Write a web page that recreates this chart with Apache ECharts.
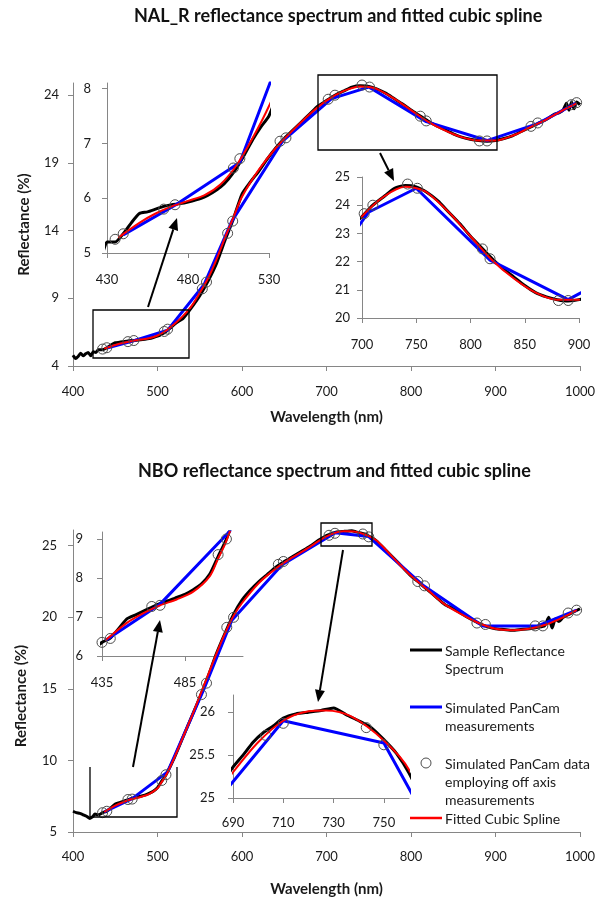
<!DOCTYPE html>
<html>
<head>
<meta charset="utf-8">
<script src="https://cdn.jsdelivr.net/npm/echarts@6/dist/echarts.min.js"></script>
<style>
html, body { margin: 0; padding: 0; background: #fff; }
#chart { width: 605px; height: 903px; }
</style>
</head>
<body>
<div id="chart"></div>
<script>
// ---- NAL_R ----
var nalSampleWl = [400,403,406,409,412,415,418,421,424,427,430,435,440,445,450,455,460,465,470,475,480,485,490,495,500,505,510,515,520,525,530,540,550,560,570,580,590,600,610,620,630,640,650,660,670,680,690,700,710,720,730,740,750,760,770,780,790,800,810,820,830,840,850,860,870,880,890,900,910,920,930,940,950,960,970,975,980,984,987,990,993,996,1000];
var nalSampleVal = [4.8,4.55,4.7,4.95,4.75,4.9,5.0,4.75,5.05,5.0,5.2,5.2,5.35,5.55,5.72,5.75,5.8,5.85,5.88,5.9,5.93,5.97,6.02,6.1,6.2,6.35,6.55,6.8,7.07,7.3,7.5,8.3,9.2,10.3,11.6,13.3,14.9,16.7,17.6,18.4,19.3,20.1,20.8,21.4,22.0,22.6,23.2,23.6,24.0,24.3,24.6,24.7,24.65,24.45,24.15,23.75,23.35,22.9,22.5,22.1,21.75,21.45,21.15,20.9,20.75,20.65,20.6,20.65,20.8,21.0,21.3,21.6,21.9,22.2,22.6,22.7,22.9,23.4,22.9,23.5,23.0,23.5,23.3];
var nalPanWl = [440,472,512,555,588,648,706,750,818,890,950,995];
var nalPanVal = [5.33,5.87,6.65,10.0,14.7,20.6,23.75,24.6,22.05,20.65,21.9,23.4];
var nalOffWl = [435,440,465,472,508,512,553,558,583,589,645,652,702,710,742,751,811,818,881,890,942,950,990,996];
var nalOffVal = [5.25,5.35,5.8,5.88,6.55,6.72,9.7,10.2,13.8,14.7,20.6,20.85,23.7,24.0,24.75,24.6,22.45,22.1,20.62,20.62,21.7,21.95,23.3,23.45];
var nalSplineWl = [437,450,460,470,480,490,500,510,520,530,540,550,560,570,580,590,600,620,640,660,680,700,720,740,750,760,780,800,820,840,860,880,900,920,940,960,980,996];
var nalSplineVal = [5.28,5.55,5.72,5.85,5.95,6.05,6.25,6.6,7.1,7.68,8.4,9.4,10.5,11.9,13.5,15.0,16.5,18.5,20.1,21.4,22.6,23.6,24.3,24.65,24.6,24.45,23.75,22.9,22.05,21.4,20.9,20.65,20.65,21.0,21.6,22.2,22.9,23.4];

// ---- NBO ----
var nboSampleWl = [400,404,408,412,416,420,423,426,430,435,440,445,450,455,460,465,470,475,480,485,490,495,500,505,510,520,530,540,550,560,570,580,590,600,610,620,630,640,650,660,670,680,690,694,698,702,706,710,715,720,725,730,735,740,745,750,755,760,770,780,790,800,810,820,830,840,850,860,870,880,890,900,910,920,930,940,950,958,963,967,971,975,980,990,1000];
var nboSampleVal = [6.45,6.35,6.3,6.2,6.1,5.95,6.05,6.25,6.2,6.35,6.46,6.7,6.95,7.05,7.15,7.25,7.35,7.42,7.5,7.58,7.7,7.85,8.1,8.55,9.0,10.2,11.6,13.0,14.4,15.9,17.5,18.9,20.2,21.2,21.9,22.5,23.0,23.5,23.9,24.25,24.6,24.95,25.36,25.5,25.65,25.76,25.84,25.93,25.98,26.0,26.02,26.05,25.97,25.9,25.82,25.68,25.52,25.29,24.7,24.1,23.5,22.9,22.4,21.9,21.4,20.9,20.6,20.25,19.9,19.6,19.35,19.2,19.15,19.1,19.15,19.2,19.3,19.4,20.0,19.25,19.9,19.7,20.0,20.3,20.6];
var nboPanWl = [437,470,512,555,588,648,710,750,815,885,950,996];
var nboPanVal = [6.4,7.33,9.2,15.0,19.8,23.7,25.9,25.64,22.2,19.4,19.4,20.5];
var nboOffWl = [435,440,465,470,505,510,552,558,582,590,643,649,703,710,743,750,808,816,878,888,947,956,986,996];
var nboOffVal = [6.35,6.45,7.27,7.3,8.6,9.0,14.6,15.4,19.3,20.0,23.7,23.9,25.73,25.87,25.82,25.62,22.5,22.2,19.6,19.5,19.4,19.4,20.3,20.5];
var nboSplineWl = [437,450,460,470,480,490,500,505,510,520,530,540,550,560,570,580,590,600,620,640,660,680,690,700,710,720,727,737,750,760,780,800,820,840,860,880,900,920,940,960,980,996];
var nboSplineVal = [6.4,6.85,7.1,7.3,7.45,7.65,8.05,8.5,8.95,10.2,11.6,13.0,14.5,16.0,17.5,18.9,20.1,21.0,22.4,23.4,24.2,24.9,25.3,25.65,25.9,26.01,26.02,25.95,25.67,25.33,24.1,22.9,21.9,20.9,20.2,19.6,19.2,19.1,19.2,19.5,20.0,20.5];

// tick label values
var mainXTicks = [400,500,600,700,800,900,1000];
var nalMainYTicks = [4,9,14,19,24];
var nalLeftXTicks = [430,480,530];
var nalLeftYTicks = [5,6,7,8];
var nalRightXTicks = [700,750,800,850,900];
var nalRightYTicks = [20,21,22,23,24,25];
var nboMainYTicks = [5,10,15,20,25];
var nboLeftXTicks = [435,485];
var nboLeftYTicks = [6,7,8,9];
var nboRightXTicks = [690,710,730,750];
var nboRightYTicks = [25,25.5,26];

var FONT = 'Lato, "Open Sans", sans-serif';
var AXIS_GREY = '#868686';

function pairs(xs, ys) {
    return xs.map(function (x, i) { return [x, ys[i]]; });
}

function makeAxis(gridIndex, min, max, ticks, margin) {
    return {
        type: 'value',
        gridIndex: gridIndex,
        min: min,
        max: max,
        axisLine: { show: true, onZero: false, lineStyle: { color: AXIS_GREY, width: 1 } },
        axisTick: { show: true, length: 5, lineStyle: { color: AXIS_GREY }, customValues: ticks },
        axisLabel: {
            color: '#1a1a1a', fontSize: 13, fontFamily: FONT, margin: margin, customValues: ticks,
            formatter: function (v) { return String(v); }
        },
        splitLine: { show: false }
    };
}

function withName(axis, name, gap, rotate, padding) {
    axis.name = name;
    axis.nameLocation = 'middle';
    axis.nameGap = gap;
    if (rotate) axis.nameRotate = 90;
    axis.nameTextStyle = { color: '#1a1a1a', fontSize: 15, fontWeight: 'bold', fontFamily: FONT, padding: padding || 0 };
    return axis;
}

function buildSeries(g, sWl, sVal, pWl, pVal, oWl, oVal, fWl, fVal) {
    return [
        {
            type: 'line', name: 'Sample Reflectance Spectrum', xAxisIndex: g, yAxisIndex: g,
            data: pairs(sWl, sVal), symbol: 'none', smooth: 0.2,
            lineStyle: { color: '#000', width: 3 }, z: 2, silent: true
        },
        {
            type: 'line', name: 'Simulated PanCam measurements', xAxisIndex: g, yAxisIndex: g,
            data: pairs(pWl, pVal), symbol: 'none',
            lineStyle: { color: '#0000ff', width: 3 }, z: 3, silent: true
        },
        {
            type: 'line', name: 'Fitted Cubic Spline', xAxisIndex: g, yAxisIndex: g,
            data: pairs(fWl, fVal), symbol: 'none', smooth: 0.3,
            lineStyle: { color: '#ff0000', width: 2 }, z: 4, silent: true
        },
        {
            type: 'scatter', name: 'Simulated PanCam data employing off axis measurements', xAxisIndex: g, yAxisIndex: g,
            data: pairs(oWl, oVal), symbol: 'circle', symbolSize: 10,
            itemStyle: { color: 'rgba(0,0,0,0)', borderColor: '#4d4d4d', borderWidth: 1, opacity: 1 },
            z: 5, silent: true
        }
    ];
}

function arrow(x1, y1, x2, y2) {
    var ang = Math.atan2(y2 - y1, x2 - x1);
    var len = 12, half = 5;
    var bx = x2 - len * Math.cos(ang), by = y2 - len * Math.sin(ang);
    return [
        { type: 'line', z: 100, shape: { x1: x1, y1: y1, x2: bx, y2: by }, style: { stroke: '#000', lineWidth: 2 } },
        { type: 'polygon', z: 100, shape: { points: [[x2, y2],
            [bx + half * Math.sin(ang), by - half * Math.cos(ang)],
            [bx - half * Math.sin(ang), by + half * Math.cos(ang)]] }, style: { fill: '#000' } }
    ];
}

function legendText(x, y, text) {
    return { type: 'text', z: 100, style: { x: x, y: y, text: text, font: '14px ' + FONT, fill: '#1a1a1a', lineHeight: 18, verticalAlign: 'top' } };
}

var grids = [
    { left: 73, top: 83, width: 507, height: 283 },   // NAL main
    { left: 107, top: 83, width: 162, height: 170 },  // NAL inset left
    { left: 362, top: 177, width: 217, height: 141 }, // NAL inset right
    { left: 73, top: 530, width: 507, height: 302 },  // NBO main
    { left: 102, top: 532, width: 141, height: 124 }, // NBO inset left
    { left: 233, top: 695, width: 176, height: 103 }  // NBO inset right
];
grids.forEach(function (g) { g.outerBoundsMode = 'none'; g.containLabel = false; });

var xAxes = [
    withName(makeAxis(0, 400, 1000, mainXTicks, 19), 'Wavelength (nm)', 44),
    makeAxis(1, 430, 530, nalLeftXTicks, 20),
    makeAxis(2, 700, 900, nalRightXTicks, 20),
    withName(makeAxis(3, 400, 1000, mainXTicks, 18), 'Wavelength (nm)', 50),
    makeAxis(4, 435, 520, nboLeftXTicks, 20),
    makeAxis(5, 690, 760, nboRightXTicks, 18)
];
var yAxes = [
    withName(makeAxis(0, 4, 24.9, nalMainYTicks, 14), 'Reflectance (%)', 41, true),
    makeAxis(1, 5, 8.1, nalLeftYTicks, 16),
    makeAxis(2, 20, 25, nalRightYTicks, 12),
    withName(makeAxis(3, 5, 26.1, nboMainYTicks, 16), 'Reflectance (%)', 44, true, [0, 30, 0, 0]),
    makeAxis(4, 6, 9.18, nboLeftYTicks, 19),
    makeAxis(5, 25, 26.2, nboRightYTicks, 18)
];

var series = []
    .concat(buildSeries(0, nalSampleWl, nalSampleVal, nalPanWl, nalPanVal, nalOffWl, nalOffVal, nalSplineWl, nalSplineVal))
    .concat(buildSeries(1, nalSampleWl, nalSampleVal, nalPanWl, nalPanVal, nalOffWl, nalOffVal, nalSplineWl, nalSplineVal))
    .concat(buildSeries(2, nalSampleWl, nalSampleVal, nalPanWl, nalPanVal, nalOffWl, nalOffVal, nalSplineWl, nalSplineVal))
    .concat(buildSeries(3, nboSampleWl, nboSampleVal, nboPanWl, nboPanVal, nboOffWl, nboOffVal, nboSplineWl, nboSplineVal))
    .concat(buildSeries(4, nboSampleWl, nboSampleVal, nboPanWl, nboPanVal, nboOffWl, nboOffVal, nboSplineWl, nboSplineVal))
    .concat(buildSeries(5, nboSampleWl, nboSampleVal, nboPanWl, nboPanVal, nboOffWl, nboOffVal, nboSplineWl, nboSplineVal));

var graphics = [
    // zoom boxes
    { type: 'rect', z: 100, shape: { x: 93, y: 310, width: 96, height: 48 }, style: { fill: 'none', stroke: '#000', lineWidth: 1.3 } },
    { type: 'rect', z: 100, shape: { x: 318, y: 75, width: 179, height: 75 }, style: { fill: 'none', stroke: '#000', lineWidth: 1.3 } },
    { type: 'polyline', z: 100, shape: { points: [[90, 767], [90, 817], [177, 817], [177, 767]] }, style: { fill: 'none', stroke: '#000', lineWidth: 1.3 } },
    { type: 'rect', z: 100, shape: { x: 321, y: 523, width: 51, height: 23 }, style: { fill: 'none', stroke: '#000', lineWidth: 1.3 } },
    // legend
    { type: 'line', z: 100, shape: { x1: 410, y1: 650, x2: 442, y2: 650 }, style: { stroke: '#000', lineWidth: 3 } },
    legendText(445, 642, 'Sample Reflectance\nSpectrum'),
    { type: 'line', z: 100, shape: { x1: 410, y1: 707, x2: 442, y2: 707 }, style: { stroke: '#0000ff', lineWidth: 3 } },
    legendText(445, 699, 'Simulated PanCam\nmeasurements'),
    { type: 'circle', z: 100, shape: { cx: 426, cy: 763, r: 5 }, style: { fill: 'none', stroke: '#4d4d4d', lineWidth: 1 } },
    legendText(445, 755, 'Simulated PanCam data\nemploying off axis\nmeasurements'),
    { type: 'line', z: 100, shape: { x1: 410, y1: 818, x2: 442, y2: 818 }, style: { stroke: '#ff0000', lineWidth: 2.5 } },
    legendText(445, 810, 'Fitted Cubic Spline')
]
    .concat(arrow(148, 307, 177, 218))
    .concat(arrow(380, 153, 394, 181))
    .concat(arrow(133, 767, 160, 620))
    .concat(arrow(343, 550, 318, 702));

var chart = echarts.init(document.getElementById('chart'));
chart.setOption({
    animation: false,
    backgroundColor: '#fff',
    title: [
        { text: 'NAL_R reflectance spectrum and fitted cubic spline', left: 134, top: 7, padding: 0,
          textStyle: { fontSize: 18, fontWeight: 'bold', fontFamily: FONT, color: '#111' } },
        { text: 'NBO reflectance spectrum and fitted cubic spline', left: 138, top: 462, padding: 0,
          textStyle: { fontSize: 18, fontWeight: 'bold', fontFamily: FONT, color: '#111' } }
    ],
    grid: grids,
    xAxis: xAxes,
    yAxis: yAxes,
    series: series,
    graphic: graphics
});
</script>
</body>
</html>
